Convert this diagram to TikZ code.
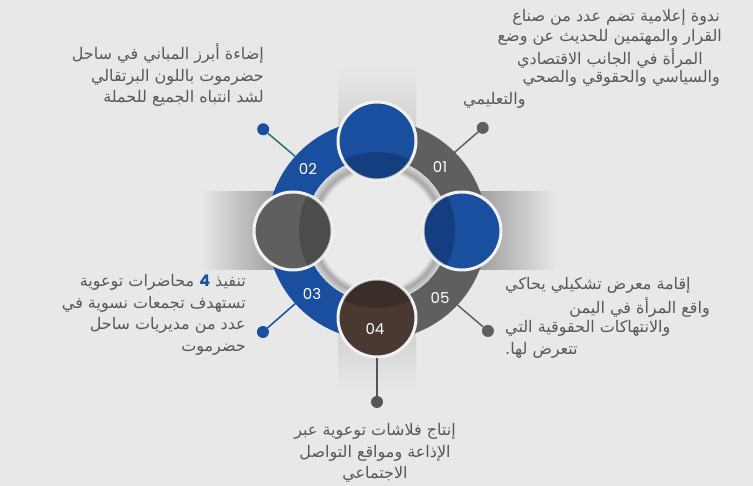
\documentclass[tikz,border=0pt]{standalone}
\usepackage{fontspec}
\TeXXeTstate=1
\newfontfamily\arabicfont[Script=Arabic]{DejaVu Sans}
\newfontfamily\numfont{Poppins}
\usetikzlibrary{calc}
\definecolor{bgcol}{HTML}{E8E8E8}
\definecolor{ablue}{HTML}{1A4E9F}
\definecolor{agrey}{HTML}{5F5F5F}
\definecolor{abrown}{HTML}{4A3932}
\definecolor{txtcol}{HTML}{585858}
\definecolor{shcol}{HTML}{8E8E8E}
\definecolor{tealline}{HTML}{2C6E80}
\definecolor{gapcol}{HTML}{F2F2F2}
\definecolor{ringin}{HTML}{EAEAEA}
\definecolor{ringmid}{HTML}{A6A6A6}
\definecolor{ringout}{HTML}{D8D8D8}
\pgfdeclareradialshading{innerglow}{\pgfpoint{0bp}{0bp}}{color(0bp)=(ringin); color(20.5bp)=(ringin); color(22.5bp)=(ringmid); color(25bp)=(ringout); color(50bp)=(ringout)}
\tikzset{
  ball/.style={circle, minimum size=78pt, inner sep=0pt, draw=gapcol, line width=3pt},
  numlabel/.style={text=white, font=\numfont\fontsize{15}{15}\selectfont},
  enddot/.style={circle, minimum size=12pt, inner sep=0pt},
  desc/.style={text=txtcol, font=\arabicfont\fontsize{16}{21.7}\selectfont, inner sep=0pt},
  link/.style={line width=1.5pt},
}
\begin{document}
\begin{tikzpicture}[x=1pt,y=1pt]
\useasboundingbox (0,0) rectangle (753,486);
\fill[bgcol] (0,0) rectangle (753,486);
\coordinate (c) at (377,256);
% soft bands behind the four circles
\shade[left color=bgcol, right color=shcol] (200,216) rectangle (293,294);
\shade[left color=shcol, right color=bgcol] (462,216) rectangle (556,294);
\shade[bottom color=shcol!30!bgcol, top color=bgcol] (338,345) rectangle (416,420);
\shade[top color=shcol!30!bgcol, bottom color=bgcol] (338,95) rectangle (416,168);
% ring
\fill[agrey] ($(c)+(0:72)$) -- ($(c)+(0:110)$) arc[start angle=0, end angle=90, radius=110] -- ($(c)+(90:72)$) arc[start angle=90, end angle=0, radius=72] -- cycle;
\fill[ablue] ($(c)+(90:72)$) -- ($(c)+(90:110)$) arc[start angle=90, end angle=180, radius=110] -- ($(c)+(180:72)$) arc[start angle=180, end angle=90, radius=72] -- cycle;
\fill[ablue] ($(c)+(180:72)$) -- ($(c)+(180:110)$) arc[start angle=180, end angle=270, radius=110] -- ($(c)+(270:72)$) arc[start angle=270, end angle=180, radius=72] -- cycle;
\fill[agrey] ($(c)+(270:72)$) -- ($(c)+(270:110)$) arc[start angle=270, end angle=360, radius=110] -- ($(c)+(0:72)$) arc[start angle=360, end angle=270, radius=72] -- cycle;
\shade[shading=innerglow] (c) circle (72);
% circles
\node[ball, fill=ablue] (btop) at (377,345) {};
\node[ball, fill=ablue] (bright) at (462,255) {};
\node[ball, fill=agrey] (bleft) at (293,255) {};
\node[ball, fill=abrown] (bbot) at (377,168) {};
\begin{scope}\clip (btop.center) circle (38.5); \fill[black, opacity=.2] (c) circle (78); \end{scope}
\begin{scope}\clip (bright.center) circle (38.5); \fill[black, opacity=.2] (c) circle (78); \end{scope}
\begin{scope}\clip (bleft.center) circle (38.5); \fill[black, opacity=.2] (c) circle (78); \end{scope}
\begin{scope}\clip (bbot.center) circle (38.5); \fill[black, opacity=.2] (c) circle (78); \end{scope}
% numbers
\node[numlabel] (n1) at (440,319) {01};
\node[numlabel] (n2) at (308,317) {02};
\node[numlabel] (n3) at (312,192) {03};
\node[numlabel] (n4) at (375,157) {04};
\node[numlabel] (n5) at (440,188) {05};
% connectors
\coordinate (e1) at ($(c)+(45:110)$);
\coordinate (e2) at ($(c)+(138:109)$);
\coordinate (e3) at ($(c)+(222:110)$);
\coordinate (e5) at ($(c)+(-43:110)$);
\node[enddot, fill=agrey] (d1) at ($(c)+(44:147)$) {};
\node[enddot, fill=ablue] (d2) at ($(c)+(138.5:152)$) {};
\node[enddot, fill=ablue] (d3) at ($(c)+(221.8:153)$) {};
\node[enddot, fill=agrey!90!black] (d4) at (377,84) {};
\node[enddot, fill=agrey] (d5) at ($(c)+(-42.3:150)$) {};
\draw[link, agrey] (e1) -- (d1);
\draw[link, tealline] (e2) -- (d2);
\draw[link, ablue] (e3) -- (d3);
\draw[link, agrey!90!black] (bbot.south) -- (d4);
\draw[link, agrey] (e5) -- (d5);
% texts
\node[desc, anchor=east] (t1a) at (720,469) {\beginR ندوة إعلامية تضم عدد من صناع\endR};
\node[desc, anchor=east] (t1b) at (722,449) {\beginR القرار والمهتمين للحديث عن وضع\endR};
\node[desc, anchor=east] (t1c) at (703,428) {\beginR المرأة في الجانب الاقتصادي\endR};
\node[desc, anchor=east] (t1d) at (720,408) {\beginR والسياسي والحقوقي والصحي\endR};
\node[desc, anchor=west] (t1e) at (463,386) {\beginR والتعليمي\endR};
\node[desc, align=right, anchor=east] (t2) at (264,411) {\beginR إضاءة أبرز المباني في ساحل\endR\\\beginR حضرموت باللون البرتقالي\endR\\\beginR لشد انتباه الجميع للحملة\endR};
\node[desc, align=right, anchor=east] (t3) at (246,171) {\beginR محاضرات توعوية\endR\ {\color{ablue}\numfont\bfseries 4}\ \beginR تنفيذ\endR\\\beginR تستهدف تجمعات نسوية في\endR\\\beginR عدد من مديريات ساحل\endR\\\beginR حضرموت\endR};
\node[desc, align=center] (t4) at (375,33) {\beginR إنتاج فلاشات توعوية عبر\endR\\\beginR الإذاعة ومواقع التواصل\endR\\\beginR الاجتماعي\endR};
\node[desc, anchor=west] (t5a) at (505,201) {\beginR إقامة معرض تشكيلي يحاكي\endR};
\node[desc, anchor=east] (t5b) at (710,179) {\beginR واقع المرأة في اليمن\endR};
\node[desc, anchor=west] (t5c) at (505,158) {\beginR والانتهاكات الحقوقية التي\endR};
\node[desc, anchor=west] (t5d) at (505,136) {\beginR تتعرض لها.\endR};
\end{tikzpicture}
\end{document}
